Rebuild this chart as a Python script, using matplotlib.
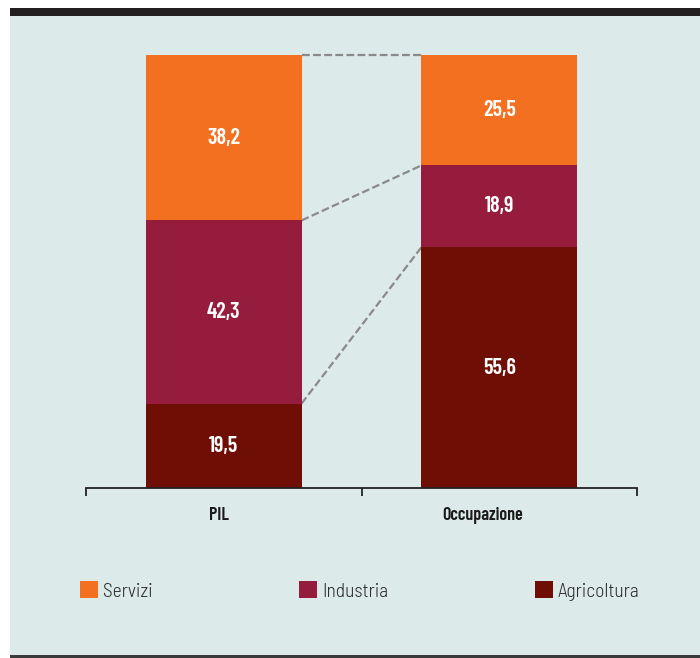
import numpy as np
import matplotlib
matplotlib.use("Agg")
import matplotlib.pyplot as plt
from matplotlib.patches import Rectangle, Patch

# data
categories = ["PIL", "Occupazione"]
sectors = ["Agricoltura", "Industria", "Servizi"]
agricoltura = [19.5, 55.6]
industria = [42.3, 18.9]
servizi = [38.2, 25.5]

colors = {"Agricoltura": "#6e0e04", "Industria": "#951c3d", "Servizi": "#f37021"}
bg = "#ddeaea"
cond = ["Barlow Condensed", "DejaVu Sans"]
semi = ["Barlow Semi Condensed", "DejaVu Sans"]

W, H = 700, 658
fig = plt.figure(figsize=(W / 100, H / 100), dpi=100, facecolor="white")

# panel background, black band on top, dark rule at the bottom
fig.patches.append(Rectangle((10 / W, 0), 1, (H - 8) / H, transform=fig.transFigure,
                             facecolor=bg, edgecolor="none", zorder=-3))
fig.patches.append(Rectangle((10 / W, (H - 16) / H), 1, 8 / H, transform=fig.transFigure,
                             facecolor="#231f20", edgecolor="none", zorder=-2))
fig.patches.append(Rectangle((10 / W, 0), 1, 3 / H, transform=fig.transFigure,
                             facecolor="#3a3a3a", edgecolor="none", zorder=-2))

ax = fig.add_axes([86 / W, (H - 488) / H, (637 - 86) / W, (488 - 55) / H])
ax.set_facecolor("none")

x = np.arange(len(categories))
width = 0.565
series = {"Agricoltura": agricoltura, "Industria": industria, "Servizi": servizi}
bottom = np.zeros(len(categories))
bounds = [bottom.copy()]
for name in sectors:
    vals = np.array(series[name])
    ax.bar(x, vals, width, bottom=bottom, color=colors[name], zorder=2)
    for xi, b, v in zip(x, bottom, vals):
        ax.text(xi, b + v / 2, f"{v:.1f}".replace(".", ","), ha="center", va="center",
                color="white", fontsize=16, fontweight=600, family=cond, zorder=3)
    bottom = bottom + vals
    bounds.append(bottom.copy())

# dashed connectors between the segment boundaries
for b in bounds[1:]:
    ax.plot([x[0] + width / 2, x[1] - width / 2], [b[0], b[1]], ls=(0, (3.5, 1.5)),
            color="#8a8a8a", lw=1.6, zorder=1, clip_on=False)

ax.set_xlim(-0.5, 1.5)
ax.set_ylim(0, 100)
for s in ["top", "left", "right"]:
    ax.spines[s].set_visible(False)
ax.spines["bottom"].set_linewidth(1.3)
ax.spines["bottom"].set_color("#222222")
ax.set_yticks([])
ax.set_xticks([-0.5, 0.5, 1.5])
ax.set_xticklabels([])
ax.tick_params(axis="x", which="major", direction="out", length=6, width=1.3, color="#222222")

# category labels sit a little left of the bar centres in the original
label_shift = [-0.017, -0.06]
ax.set_xticks(x + np.array(label_shift), minor=True)
ax.set_xticklabels(categories, minor=True, fontsize=13, fontweight=600, family=cond,
                   color="#1a1a1a")
ax.tick_params(axis="x", which="minor", length=0, pad=14)

handles = [Patch(facecolor=colors[n], edgecolor="none") for n in ["Servizi", "Industria", "Agricoltura"]]
fig.legend(handles, ["Servizi", "Industria", "Agricoltura"], ncol=3, mode="expand",
           bbox_to_anchor=(62 / W, (H - 604) / H, (657 - 62) / W, 26 / H), loc="center",
           frameon=False, handlelength=0.95, handleheight=0.95, handletextpad=0.25,
           labelcolor="#2a2a2a", prop={"family": semi, "size": 14, "weight": 300})

fig.savefig("out.png", dpi=100, facecolor="white")
